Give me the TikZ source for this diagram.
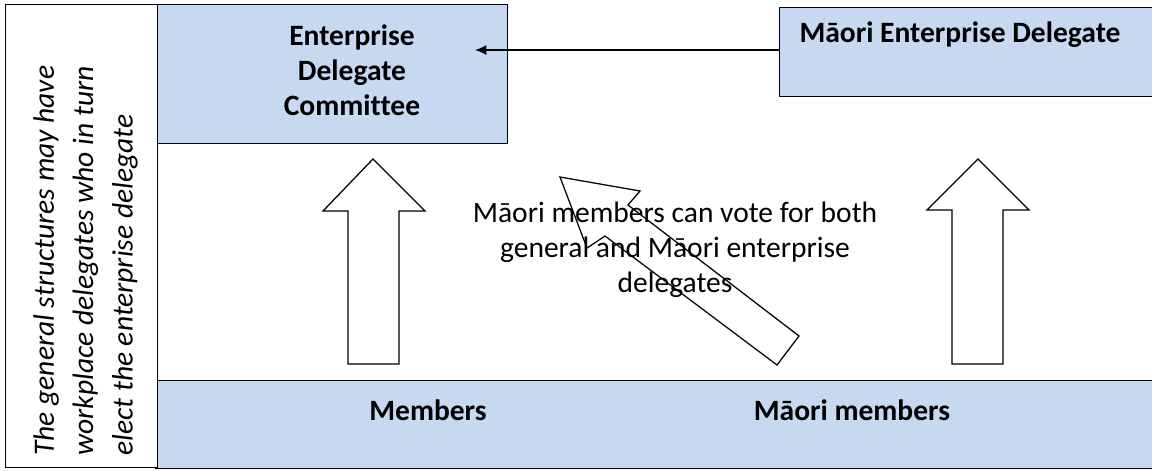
\documentclass[tikz,border=0pt]{standalone}
\usepackage{fontspec}
\setmainfont{Carlito}[Ligatures=NoCommon]
\usetikzlibrary{arrows.meta}
\definecolor{boxblue}{RGB}{198,217,241}
\tikzset{
  panel/.style={draw, line width=0.9pt, fill=boxblue, anchor=north west, inner sep=0pt},
  boxlabel/.style={font=\bfseries\fontsize{21}{24.8}\selectfont, align=center},
  plainlabel/.style={font=\fontsize{21}{24.8}\selectfont, align=center},
  blockarrow/.style={draw, line width=0.9pt},
}
\begin{document}
\begin{tikzpicture}[x=0.025cm,y=-0.025cm]
\useasboundingbox (0,0) rectangle (1152,470);
% bottom band
\node[panel, minimum width=25.125cm, minimum height=2.2cm] (members) at (155,380) {};
\node[boxlabel] (memtext) at (428,410) {Members};
\node[boxlabel] (maorimemtext) at (852,410) {Māori members};
% delegate boxes
\node[panel, minimum width=8.8cm, minimum height=3.475cm] (edc) at (155,4) {};
\node[boxlabel] (edctext) at (352,70) {Enterprise\\Delegate\\Committee};
\node[panel, minimum width=9.525cm, minimum height=2.225cm] (maoridel) at (779,7) {};
\node[boxlabel] (maorideltext) at (960,35) {Māori Enterprise Delegate};
\coordinate (tip) at (475,50);
\draw[line width=0.9pt, -{Latex[length=8pt,width=7pt]}] (maoridel.west |- tip) -- (tip);
% note on the left
\node[draw, line width=0.9pt, fill=white, anchor=north west, inner sep=0pt,
      minimum width=3.8cm, minimum height=11.575cm] (note) at (5,4) {};
\node[rotate=90, anchor=north west, align=left, inner sep=0pt,
      font=\itshape\fontsize{21}{28}\selectfont] (notetext) at (33,456)
  {The general structures may have\\workplace delegates who in turn\\elect the enterprise delegate};
% block arrows
\draw[blockarrow, fill=white] (348,364) -- (348,211) -- (323,211) -- (373,159) -- (425,211) -- (399,211) -- (399,364) -- cycle;
\draw[blockarrow, fill=white] (952,364) -- (952,210) -- (927,210) -- (978,159) -- (1029,210) -- (1003,210) -- (1003,364) -- cycle;
\node[plainlabel] (votetext) at (675,250) {Māori members can vote for both\\general and Māori enterprise\\delegates};
\draw[blockarrow] (777,365) -- (605,236) -- (587,248) -- (560,177) -- (640,191) -- (628,205) -- (799,336) -- cycle;
\end{tikzpicture}
\end{document}
